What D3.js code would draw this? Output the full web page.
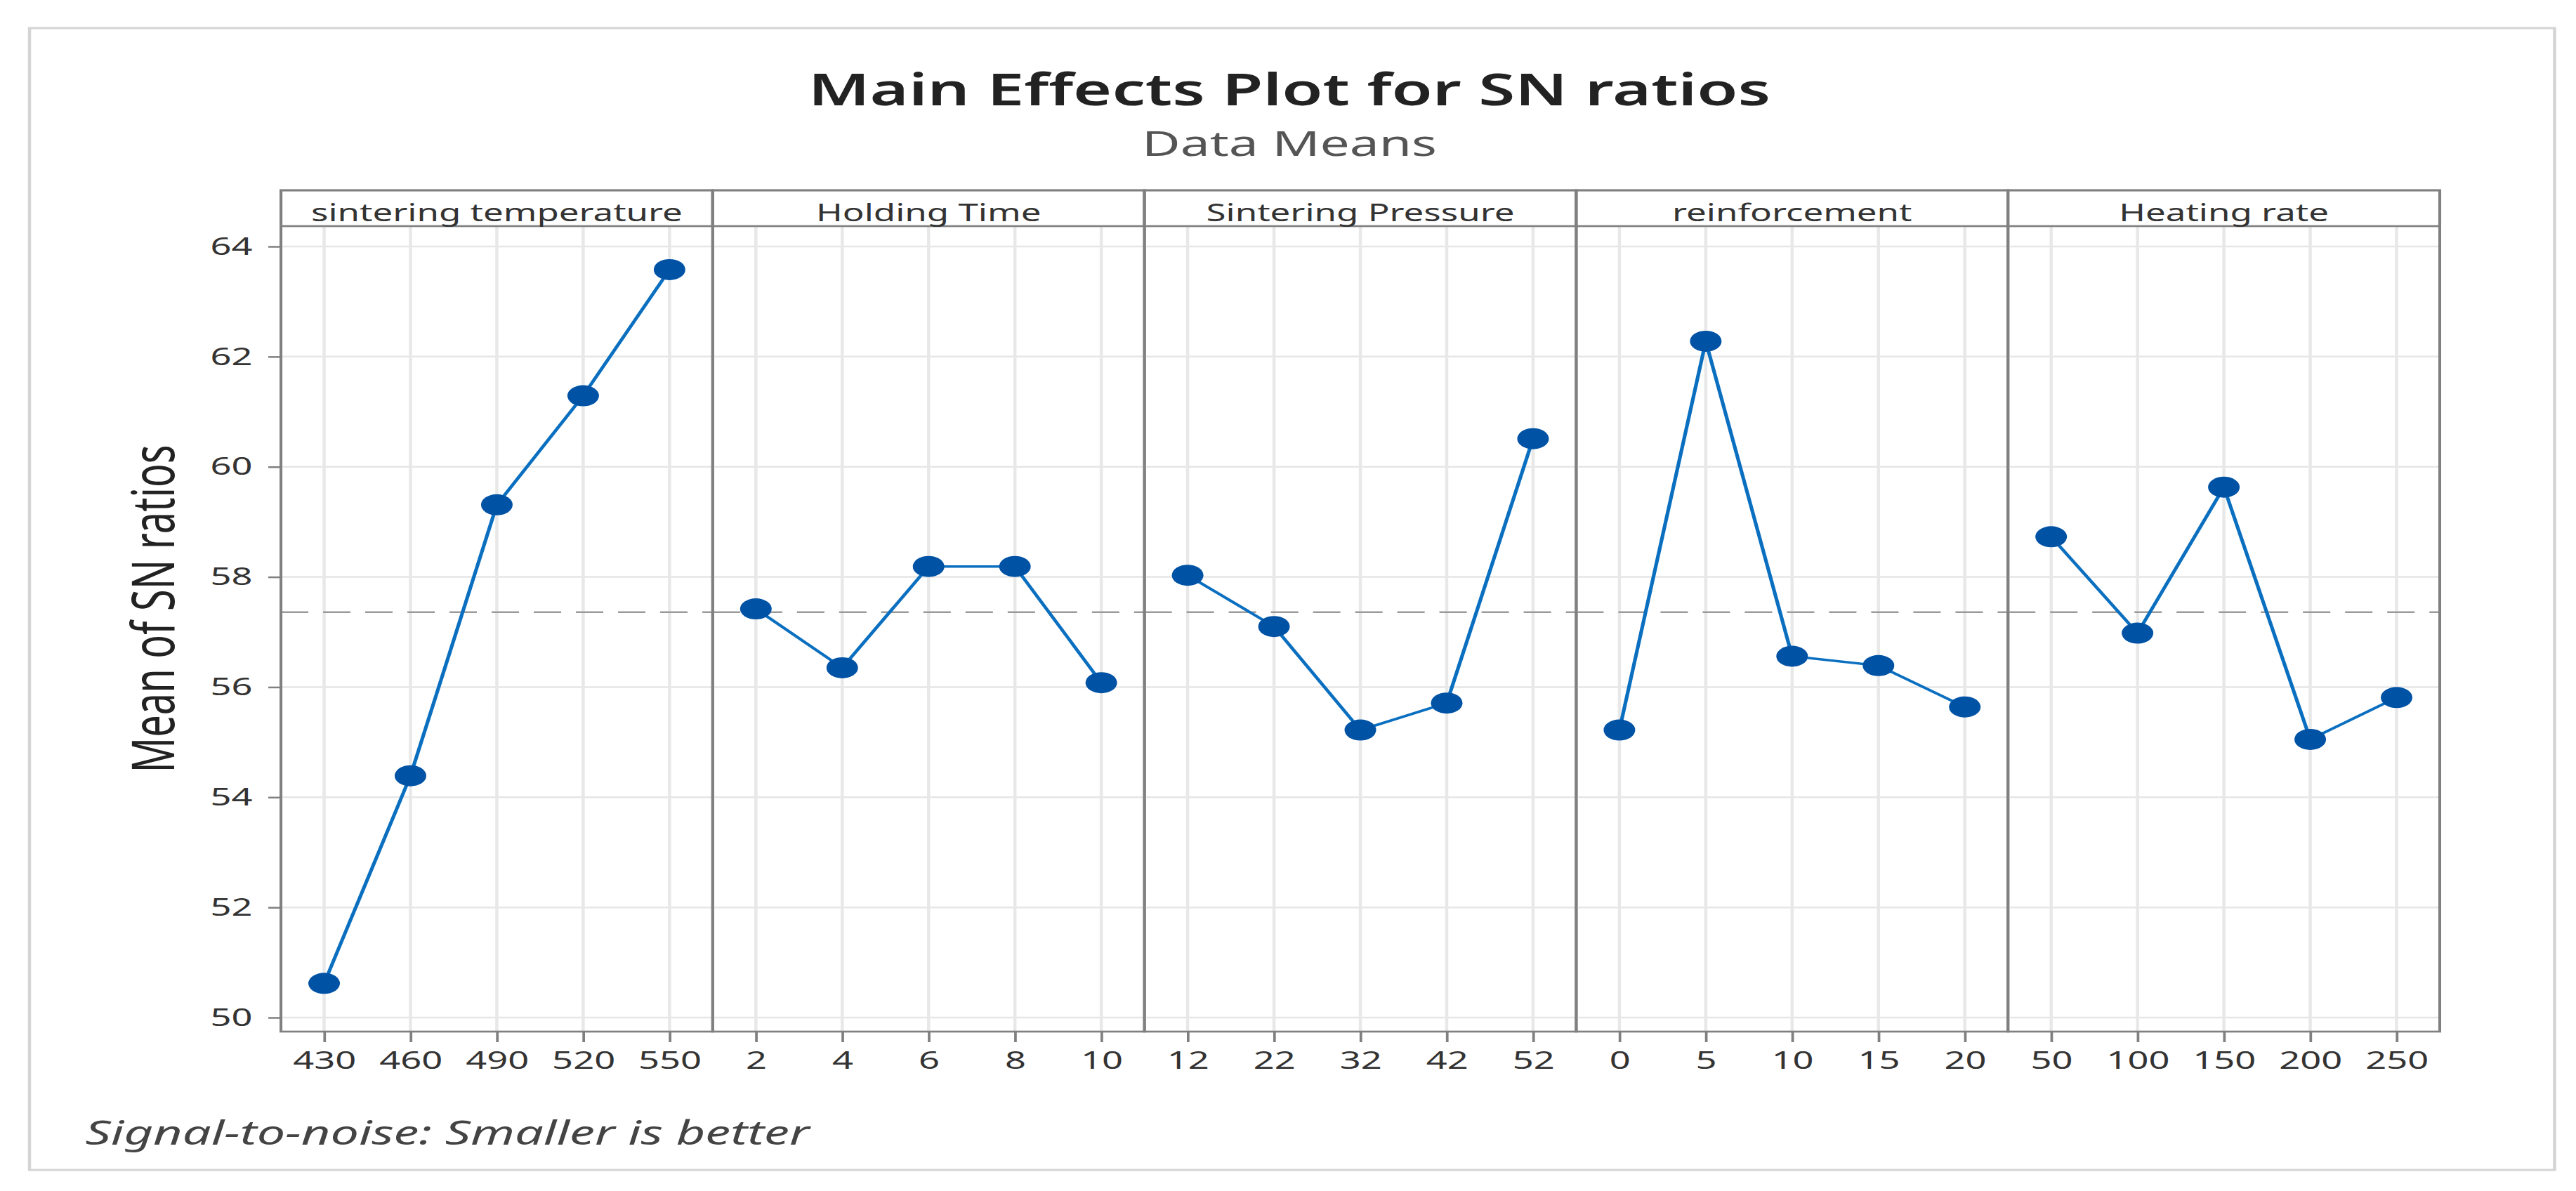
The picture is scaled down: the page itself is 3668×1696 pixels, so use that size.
<!DOCTYPE html>
<html>
<head>
<meta charset="utf-8">
<script src="https://cdn.jsdelivr.net/npm/d3@7"></script>
<style>
  body { margin: 0; background: #ffffff; }
  svg { display: block; }
</style>
</head>
<body>
<script>
// Data
var factorNames = ["sintering temperature", "Holding Time", "Sintering Pressure", "reinforcement", "Heating rate"];

var tempLevels = ["430", "460", "490", "520", "550"];
var tempMeans = [50.62, 54.39, 59.31, 61.29, 63.58];

var timeLevels = ["2", "4", "6", "8", "10"];
var timeMeans = [57.42, 56.35, 58.19, 58.19, 56.08];

var pressureLevels = ["12", "22", "32", "42", "52"];
var pressureMeans = [58.03, 57.10, 55.22, 55.71, 60.51];

var reinfLevels = ["0", "5", "10", "15", "20"];
var reinfMeans = [55.22, 62.28, 56.56, 56.39, 55.64];

var rateLevels = ["50", "100", "150", "200", "250"];
var rateMeans = [58.73, 56.98, 59.63, 55.05, 55.81];

var grandMean = 57.36;
var yTicks = [50, 52, 54, 56, 58, 60, 62, 64];

var levelsList = [tempLevels, timeLevels, pressureLevels, reinfLevels, rateLevels];
var meansList = [tempMeans, timeMeans, pressureMeans, reinfMeans, rateMeans];

// The original picture is stretched sideways, so draw in a narrower
// coordinate system and let the viewBox stretch it back out.
var stretch = 1.5;
var fullWidth = 3668;
var fullHeight = 1696;
var width = fullWidth / stretch;
var height = fullHeight;

var fontFamily = "'Noto Sans', 'Open Sans', sans-serif";

var layout = {
  frameLeft: 28,
  frameTop: 40,
  frameRight: 2425,
  frameBottom: 1666,
  plotLeft: 266.7,
  plotRight: 2316,
  stripTop: 271,
  plotTop: 322,
  plotBottom: 1469
};
var panelWidth = (layout.plotRight - layout.plotLeft) / factorNames.length;

var svg = d3.select("body")
.append("svg")
.attr("width", fullWidth)
.attr("height", fullHeight)
.attr("viewBox", `0 0 ${width} ${height}`)
.attr("preserveAspectRatio", "none")
.style("font-family", fontFamily);

// Outer frame
svg.append("rect")
.attr("x", layout.frameLeft)
.attr("y", layout.frameTop)
.attr("width", layout.frameRight - layout.frameLeft)
.attr("height", layout.frameBottom - layout.frameTop)
.attr("fill", "#ffffff")
.attr("stroke", "#d4d4d4")
.attr("stroke-width", 3);

// Title and subtitle
var titleX = 1224;
svg.append("text")
.attr("x", titleX)
.attr("y", 150)
.attr("text-anchor", "middle")
.style("font-size", "63px")
.style("font-weight", "600")
.attr("fill", "#222222")
.text("Main Effects Plot for SN ratios");

svg.append("text")
.attr("x", titleX)
.attr("y", 222)
.attr("text-anchor", "middle")
.style("font-size", "50px")
.attr("fill", "#555555")
.text("Data Means");

// Shared y scale
var y_Scale = d3.scaleLinear()
.domain([50, 64])
.range([1449, 351]);

var plot_line = d3.line()
.x(function(d) {return d.x;})
.y(function(d) {return y_Scale(d.mean);});

// One panel per factor
factorNames.forEach(function(name, i) {
  var left = layout.plotLeft + i * panelWidth;
  var right = left + panelWidth;

  var x_Scale = d3.scalePoint()
  .domain(levelsList[i])
  .range([left, right])
  .padding(0.5);

  var panel = svg.append("g").attr("class", "panel");

  // horizontal grid
  panel.selectAll(".hgrid")
  .data(yTicks)
  .enter()
  .append("line")
  .attr("x1", left)
  .attr("x2", right)
  .attr("y1", function(d) {return y_Scale(d);})
  .attr("y2", function(d) {return y_Scale(d);})
  .attr("stroke", "#e6e6e6")
  .attr("stroke-width", 2.5);

  // vertical grid
  panel.selectAll(".vgrid")
  .data(levelsList[i])
  .enter()
  .append("line")
  .attr("x1", function(d) {return x_Scale(d);})
  .attr("x2", function(d) {return x_Scale(d);})
  .attr("y1", layout.plotTop)
  .attr("y2", layout.plotBottom)
  .attr("stroke", "#e8e8e8")
  .attr("stroke-width", 3);

  // grand mean reference line
  panel.append("line")
  .attr("x1", left)
  .attr("x2", right)
  .attr("y1", y_Scale(grandMean))
  .attr("y2", y_Scale(grandMean))
  .attr("stroke", "#9a9a9a")
  .attr("stroke-width", 2.5)
  .style("stroke-dasharray", "26, 14");

  var points = levelsList[i].map(function(lv, k) {
    return {x: x_Scale(lv), mean: meansList[i][k]};
  });

  panel.append("path")
  .attr("d", plot_line(points))
  .attr("fill", "none")
  .attr("stroke", "#0b6fc0")
  .attr("stroke-width", 3.5);

  panel.selectAll(".dot")
  .data(points)
  .enter()
  .append("circle")
  .attr("cx", function(d) {return d.x;})
  .attr("cy", function(d) {return y_Scale(d.mean);})
  .attr("r", 15)
  .attr("fill", "#0052a5");

  // strip with the factor name
  panel.append("rect")
  .attr("x", left)
  .attr("y", layout.stripTop)
  .attr("width", panelWidth)
  .attr("height", layout.plotTop - layout.stripTop)
  .attr("fill", "#ffffff")
  .attr("stroke", "#808080")
  .attr("stroke-width", 2.7);

  panel.append("text")
  .attr("x", (left + right) / 2)
  .attr("y", 315)
  .attr("text-anchor", "middle")
  .style("font-size", "34px")
  .attr("fill", "#333333")
  .text(name);

  // panel border
  panel.append("rect")
  .attr("x", left)
  .attr("y", layout.stripTop)
  .attr("width", panelWidth)
  .attr("height", layout.plotBottom - layout.stripTop)
  .attr("fill", "none")
  .attr("stroke", "#808080")
  .attr("stroke-width", 2.7);

  // bottom axis for this panel
  var x_Axis = svg.append("g")
  .attr("transform", `translate(0, ${layout.plotBottom})`)
  .call(d3.axisBottom(x_Scale).tickSize(15).tickPadding(13));
  x_Axis.select(".domain").remove();
  x_Axis.selectAll("line").attr("stroke", "#808080").attr("stroke-width", 2.5);
  x_Axis.selectAll("text")
  .style("font-size", "35px")
  .style("font-family", fontFamily)
  .attr("fill", "#333333");
});

// Left axis
var y_Axis = svg.append("g")
.attr("transform", `translate(${layout.plotLeft}, 0)`)
.call(d3.axisLeft(y_Scale).tickValues(yTicks).tickSize(12).tickPadding(15));
y_Axis.select(".domain").remove();
y_Axis.selectAll("line").attr("stroke", "#808080").attr("stroke-width", 2.5);
y_Axis.selectAll("text")
.style("font-size", "35px")
.style("font-family", fontFamily)
.attr("fill", "#333333");

// Axis label
svg.append("text")
.attr("transform", "translate(165, 867) rotate(-90)")
.attr("text-anchor", "middle")
.style("font-size", "56px")
.attr("fill", "#222222")
.text("Mean of SN ratios");

// Footnote
svg.append("text")
.attr("x", 81)
.attr("y", 1630)
.style("font-size", "48px")
.style("font-style", "italic")
.attr("fill", "#444444")
.text("Signal-to-noise: Smaller is better");
</script>
</body>
</html>
